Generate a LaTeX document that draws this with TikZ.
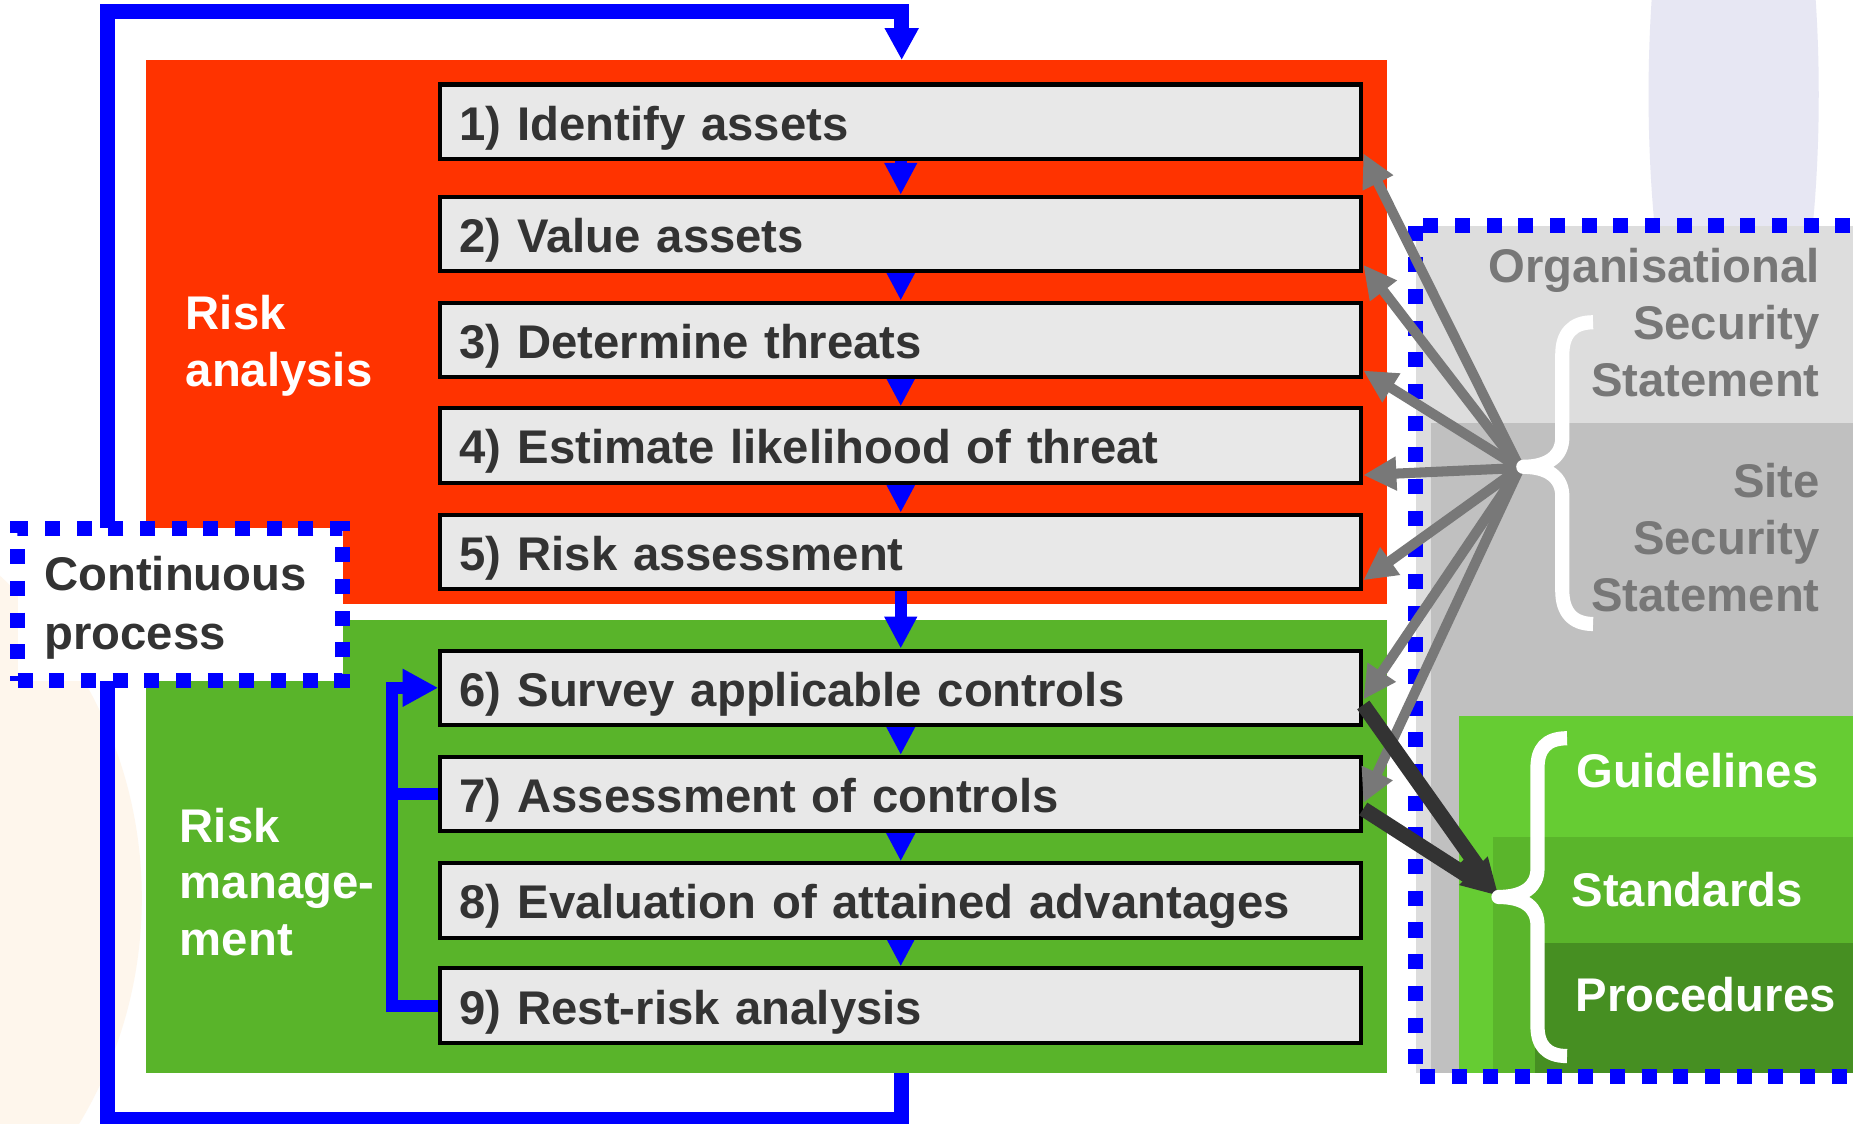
\documentclass[tikz,border=0pt]{standalone}
\usepackage{fontspec}
\setmainfont{Liberation Sans}
\usetikzlibrary{arrows.meta,calc}
\definecolor{redbg}{HTML}{FF3300}
\definecolor{greenbg}{HTML}{59B42A}
\definecolor{boxfill}{HTML}{E8E8E8}
\definecolor{txtdark}{HTML}{333333}
\definecolor{panellight}{HTML}{DDDDDD}
\definecolor{paneldark}{HTML}{C0C0C0}
\definecolor{ptxt}{HTML}{777777}
\definecolor{grayarr}{HTML}{787878}
\definecolor{darkarr}{HTML}{333333}
\definecolor{glight}{HTML}{66CC33}
\definecolor{gmid}{HTML}{5AB52B}
\definecolor{gdark}{HTML}{468F22}
\definecolor{lavender}{HTML}{E7E7F3}
\definecolor{peach}{HTML}{FEF6EC}
\pgfdeclarelayer{back}
\pgfsetlayers{back,main}
\newcommand{\fstrut}{\rule{0pt}{32pt}}
\newcommand{\cstrut}{\rule{0pt}{36pt}}
\newcommand{\lstrut}{\rule[-9pt]{0pt}{9pt}}
\tikzset{
  bigfont/.style={font=\fontsize{40pt}{48pt}\selectfont\bfseries},
  stepbox/.style={draw=black, line width=3.4pt, fill=boxfill, text=txtdark, bigfont,
     text width=746.4pt, align=left, inner xsep=16.5pt, inner ysep=0pt,
     text height=31pt, text depth=0pt, minimum height=63pt},
  zone/.style={inner sep=0pt, outer sep=0pt, draw=none},
  arealabel/.style={bigfont, text=white, inner sep=0pt, align=left, anchor=north west},
  panellabel/.style={font=\fontsize{40pt}{48.5pt}\selectfont\bfseries, text=ptxt, inner sep=0pt, align=right, anchor=north east},
  greenlabel/.style={bigfont, text=white, inner sep=0pt, anchor=base west},
  stepflow/.style={blue, line width=10pt, -{Triangle[length=27pt,width=26pt]}},
  loopline/.style={blue, line width=12.8pt, -{Triangle[length=27pt,width=27pt]}},
  feedback/.style={blue, line width=10pt},
  dotbox/.style={draw=blue, line width=12.7pt, dash pattern=on 12.7pt off 14.1pt},
  grayarrow/.style={grayarr, line width=8.5pt, -{Triangle[length=28pt,width=27pt]}},
  darkline/.style={darkarr, line width=12.7pt},
  bracestyle/.style={white, line width=12pt, line cap=butt, line join=round},
}
\begin{document}
\begin{tikzpicture}[x=1pt,y=-1pt]
\useasboundingbox (0,0) rectangle (1568,951);
\clip (0,0) rectangle (1568,951);
\begin{pgfonlayer}{back}
  \fill[white] (0,0) rectangle (1568,951);
  \fill[peach] (-250,760) circle[radius=370pt];
  \fill[lavender] (1467,80) ellipse[x radius=72pt, y radius=300pt];
  \node[zone, fill=redbg, minimum width=1049.9pt, minimum height=460.2pt] (redbox) at (648.45,280.9) {};
  \node[zone, fill=greenbg, minimum width=1049.9pt, minimum height=383.4pt] (greenbox) at (648.45,716.3) {};
  \fill[panellight] (1198,191) rectangle (1600,908);
  \fill[paneldark] (1211,358) rectangle (1600,908);
  \fill[glight] (1235,606) rectangle (1600,908);
  \fill[gmid] (1263,708) rectangle (1600,908);
  \fill[gdark] (1299,798) rectangle (1600,908);
\end{pgfonlayer}

% steps
\node[stepbox] (s1) at (762.2,103) {1) Identify assets};
\node[stepbox] (s2) at (762.2,198) {2) Value assets};
\node[stepbox] (s3) at (762.2,287.5) {3) Determine threats};
\node[stepbox] (s4) at (762.2,377) {4) Estimate likelihood of threat};
\node[stepbox] (s5) at (762.2,467) {5) Risk assessment};
\node[stepbox] (s6) at (762.2,582) {6) Survey applicable controls};
\node[stepbox] (s7) at (762.2,672) {7) Assessment of controls};
\node[stepbox] (s8) at (762.2,762) {8) Evaluation of attained advantages};
\node[stepbox] (s9) at (762.2,851) {9) Rest-risk analysis};

\begin{pgfonlayer}{back}
  \foreach \a/\b in {s1/s2,s2/s3,s3/s4,s4/s5,s5/s6,s6/s7,s7/s8,s8/s9}
    \draw[stepflow] (\a.south) -- (\b.north);
\end{pgfonlayer}

% area labels
\node[arealabel] (ra) at (157,247) {\fstrut Risk\\analysis};
\node[arealabel] (rm) at (152,680.3) {\fstrut Risk\\manage-\\ment};

% continuous loop
\coordinate (loopBR) at (763,947);
\coordinate (loopBL) at (91,947);
\coordinate (loopTL) at (91,10);
\coordinate (loopTR) at (763,10);
\draw[loopline] (greenbox.south -| loopTR) -- (loopBR) -- (loopBL) -- (loopTL) -- (loopTR) -- (redbox.north -| loopTR);
\node[dotbox, fill=white, text=txtdark, font=\fontsize{40pt}{50pt}\selectfont\bfseries,
      text width=230pt, align=left, inner sep=0pt, minimum width=275pt, minimum height=129pt]
      (cont) at (152.5,511.5) {\cstrut Continuous\\process\lstrut};

% feedback bracket
\coordinate (fbx) at (332,0);
\draw[feedback, -{Triangle[length=30pt,width=30pt]}] (s9.west) -- (s9.west -| fbx) -- (s6.west -| fbx) -- (s6.west);
\draw[feedback] (s7.west) -- (s7.west -| fbx);

% right panel border
\draw[dotbox] (1198,191) rectangle (1640,911);

% gray arrows
\coordinate (hub) at (1286,396);
\foreach \n/\dy in {1/26.7,2/26,3/26,4/25,5/24,6/10,7/7.5}
  \draw[grayarrow] (hub) -- ($(s\n.east)+(0,\dy)$);

% dark arrows
\coordinate (stdtip) at (1268,758);
\draw[darkline, shorten >=22pt] ($(s6.east)+(0,14.5)$) -- (stdtip);
\draw[darkline, shorten >=22pt] ($(s7.east)+(0,12.5)$) -- (stdtip);
\draw[darkline, -{Triangle[length=30pt,width=32pt]}] ($(stdtip)+(-30,-30)$) -- (stdtip);

% braces
\draw[bracestyle] (1348,272.7) .. controls (1330,272.7) and (1322,283) .. (1322,300) -- (1322,370)
  .. controls (1322,386) and (1310,395) .. (1289,395)
  .. controls (1310,395) and (1322,404) .. (1322,420) -- (1322,500)
  .. controls (1322,517) and (1330,528) .. (1348,528);
\draw[bracestyle] (1326,624.7) .. controls (1308,624.7) and (1301,634) .. (1301,650) -- (1301,735)
  .. controls (1301,750) and (1290,759) .. (1268,759)
  .. controls (1290,759) and (1301,768) .. (1301,783) -- (1301,868)
  .. controls (1301,884) and (1308,893.6) .. (1326,893.6);

% panel labels
\node[panellabel] (org) at (1540,206.6) {\fstrut Organisational\\Security\\Statement};
\node[panellabel] (site) at (1540,388.4) {\fstrut Site\\Security\\Statement};
\node[greenlabel] (guide) at (1334,666) {Guidelines};
\node[greenlabel] (stand) at (1329.6,767.3) {Standards};
\node[greenlabel] (proc) at (1333,856) {Procedures};
\end{tikzpicture}
\end{document}
